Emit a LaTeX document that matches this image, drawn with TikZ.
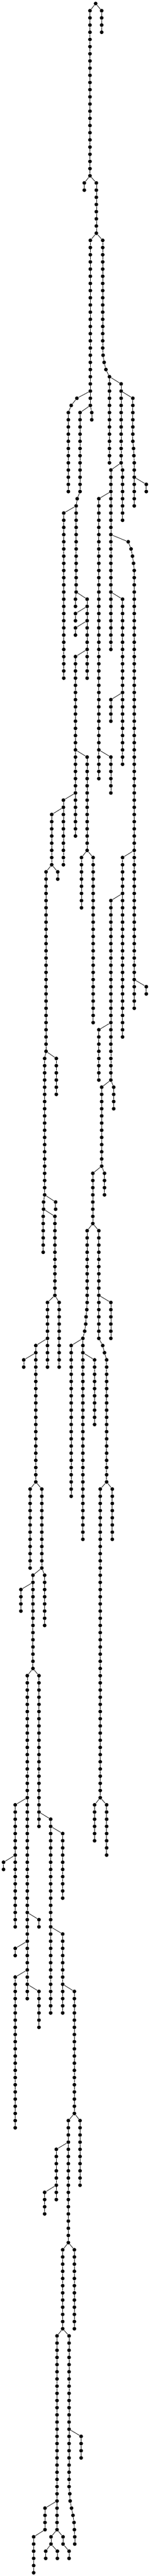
\documentclass[tikz,border=0pt]{standalone}
\usepackage{tikz}

\newcommand{\stem}[5]{%
  \foreach \r in {#4,...,#5} {
    \node[dot] (#1-\r) at (#3, \r) {};
    \ifnum\r>#4 \pgfmathtruncatemacro\q{\r-1}\draw (#1-\q) -- (#1-\r);\fi
  }
  \draw (#2) -- (#1-#4);
}

\begin{document}
\begin{tikzpicture}[x = 1pt, y = -20.27pt, line width = 1.2pt, dot/.style = {fill, circle, inner sep = 0pt, minimum size = 10.5pt}]
      \useasboundingbox (0, -0.4933) rectangle (423, 358.46);

      \node[dot] (root-0) at (270, 0) {};
      \stem{a}{root-0}{254}{1}{24}
      \stem{spur}{root-0}{287}{1}{4}
      \stem{a1}{a-24}{238}{25}{26}
      \stem{b}{a-24}{272}{25}{32}

      \stem{b1}{b-32}{255}{33}{56}
      \stem{d1}{b1-54}{217}{55}{55}
      \stem{d2}{d1-55}{201}{56}{56}
      \stem{d3}{d2-56}{193}{57}{68}
      \stem{b2}{b1-56}{259}{57}{58}
      \stem{e}{b1-56}{226}{57}{68}
      \stem{e2}{e-68}{218}{69}{69}
      \stem{e3}{e2-69}{215}{70}{82}
      \stem{f}{e3-70}{180}{71}{94}
      \stem{g1}{e3-82}{213}{83}{84}
      \stem{h}{e3-82}{246}{83}{94}
      \stem{g2}{h-84}{213}{85}{86}
      \stem{g3}{h-86}{213}{87}{88}
      \stem{i}{h-90}{213}{91}{116}
      \stem{j}{i-104}{246}{105}{118}
      \stem{j1}{j-118}{230}{119}{126}
      \stem{j2}{j-118}{263}{119}{142}
      \stem{k}{i-110}{179}{111}{120}
      \stem{l}{k-112}{146}{113}{120}
      \stem{l1}{l-120}{163}{121}{122}
      \stem{m}{l-120}{130}{121}{146}
      \stem{m1}{m-146}{159}{147}{152}
      \stem{n}{m-146}{126}{147}{166}
      \stem{n1}{n-166}{157}{167}{168}
      \stem{o}{n-166}{123}{167}{168}
      \stem{o1}{o-168}{122}{169}{174}
      \stem{p}{o-168}{155}{169}{180}
      \stem{q}{p-180}{134}{181}{190}
      \stem{p1}{p-180}{167}{181}{190}
      \stem{s}{q-186}{101}{187}{206}
      \stem{s1}{s-188}{67}{189}{190}
      \stem{s2}{s-206}{85}{207}{218}
      \stem{t}{s-206}{118}{207}{218}
      \stem{u}{t-218}{93}{219}{232}
      \stem{t1}{t-218}{126}{219}{226}
      \stem{u1}{u-220}{59}{221}{224}
      \stem{v}{u-232}{77}{233}{278}
      \stem{w}{u-232}{110}{233}{254}
      \stem{v1}{v-250}{43}{251}{268}
      \stem{v2}{v1-258}{10}{259}{260}
      \stem{v3}{v-266}{110}{267}{268}
      \stem{v4}{v-270}{43}{271}{272}
      \stem{v5}{v-274}{43}{275}{296}
      \stem{v6}{v-276}{110}{277}{282}
      \stem{y}{w-252}{143}{253}{280}
      \stem{y2}{y-254}{177}{255}{264}
      \stem{z}{y-268}{177}{269}{280}
      \stem{za}{z-276}{210}{277}{294}
      \stem{zb}{za-294}{193}{295}{312}
      \stem{zc}{za-294}{226}{295}{304}
      \stem{zd}{zb-298}{159}{299}{306}
      \stem{ze}{zd-304}{126}{305}{308}
      \stem{zf}{zb-312}{177}{313}{324}
      \stem{zg}{zb-312}{210}{313}{324}
      \stem{zh}{zf-324}{161}{325}{352}
      \stem{zi}{zf-324}{195}{325}{346}
      \stem{zi1}{zi-346}{197}{347}{347}
      \stem{zi2}{zi1-347}{198}{348}{348}
      \stem{zi3}{zi2-348}{202}{349}{349}
      \stem{zi4}{zi3-349}{206}{350}{350}
      \stem{zi5}{zi4-350}{209}{351}{351}
      \stem{zi6}{zi5-351}{210}{352}{352}
      \stem{zi7}{zi6-352}{211}{353}{354}
      \stem{zj}{zi-338}{229}{339}{342}
      \stem{zk}{zh-348}{127}{349}{352}
      \stem{zl}{zk-352}{95}{353}{358}
      \stem{zm}{zh-352}{144}{353}{354}
      \stem{zn}{zh-352}{178}{353}{354}
      \stem{zo}{zm-354}{129}{355}{356}
      \stem{zp}{zm-354}{162}{355}{356}
      \stem{zq}{zn-354}{195}{355}{356}

      \stem{c}{b-32}{290}{33}{48}
      \stem{c1}{c-48}{291}{49}{49}
      \stem{c2}{c1-49}{294}{50}{50}
      \stem{c3}{c2-50}{299}{51}{51}
      \stem{cc}{c3-51}{309}{52}{64}
      \stem{ca}{cc-52}{342}{53}{64}
      \stem{cb}{ca-54}{375}{55}{61}
      \stem{cb1}{cb-61}{377}{62}{62}
      \stem{cb2}{cb1-62}{378}{63}{63}
      \stem{cb3}{cb2-63}{379}{64}{70}
      \stem{cb4}{cb3-66}{413}{67}{68}
      \stem{cd}{ca-64}{313}{65}{90}
      \stem{ce}{ca-64}{346}{65}{72}
      \stem{cf}{cd-68}{279}{69}{108}
      \stem{cg}{cf-104}{313}{105}{110}
      \stem{ch1}{cd-74}{362}{75}{75}
      \stem{ch2}{ch1-75}{370}{76}{76}
      \stem{ch3}{ch2-76}{374}{77}{77}
      \stem{ch4}{ch3-77}{377}{78}{78}
      \stem{ch}{ch4-78}{379}{79}{140}
      \stem{ci}{ch-118}{346}{119}{144}
      \stem{cj}{ch-136}{413}{137}{138}
      \stem{ck}{ci-124}{313}{125}{150}
      \stem{cl}{ck-142}{279}{143}{150}
      \stem{cm}{ck-150}{287}{151}{162}
      \stem{cn}{ck-150}{321}{151}{154}
      \stem{co}{cm-162}{262}{163}{170}
      \stem{cp}{cm-162}{295}{163}{166}
      \stem{cq}{co-170}{246}{171}{181}
      \stem{cq1}{cq-181}{245}{182}{182}
      \stem{cq2}{cq1-182}{243}{183}{183}
      \stem{cq3}{cq2-183}{242}{184}{184}
      \stem{cq4}{cq3-184}{239}{185}{185}
      \stem{cr}{cq4-185}{234}{186}{214}
      \stem{cs}{cr-186}{201}{187}{208}
      \stem{ct}{cr-188}{267}{189}{198}
      \stem{cu}{co-170}{279}{171}{186}
      \stem{cw}{cu-180}{313}{181}{186}
      \stem{cu1}{cu-186}{290}{187}{187}
      \stem{cu2}{cu1-187}{295}{188}{188}
      \stem{cv}{cu2-188}{301}{189}{206}
      \stem{cx}{cv-206}{283}{207}{250}
      \stem{cy}{cv-206}{317}{207}{214}
      \stem{cx1}{cx-250}{267}{251}{256}
      \stem{cx2}{cx-250}{301}{251}{258}
      \stem{cz}{cd-82}{346}{83}{106}
      \stem{cz1}{cz-96}{313}{97}{100}

    \end{tikzpicture}
\end{document}
